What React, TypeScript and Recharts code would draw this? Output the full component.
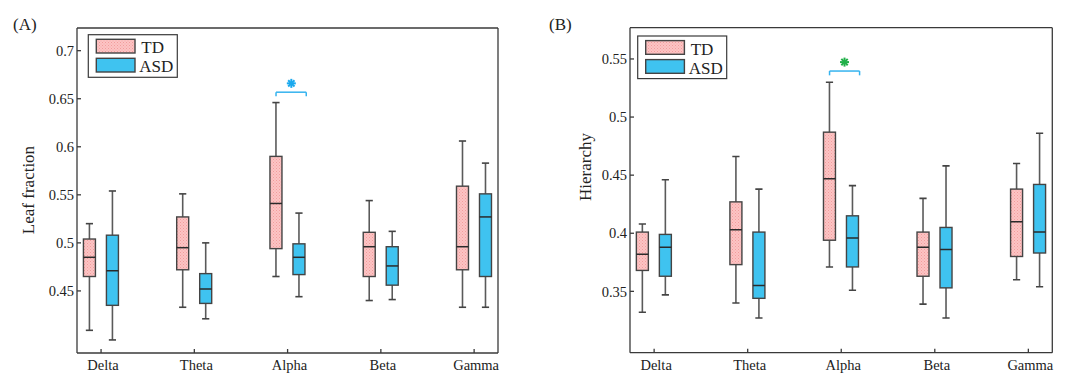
import React from 'react';
import {
  ComposedChart, Bar, XAxis, YAxis, ReferenceLine, ReferenceDot, Customized,
} from 'recharts';

// ---------- data ----------
const bands = ['Delta', 'Theta', 'Alpha', 'Beta', 'Gamma'];

// Leaf fraction (A)
const leafTD = {
  lo: [0.409, 0.433, 0.465, 0.440, 0.433],
  q1: [0.465, 0.472, 0.494, 0.465, 0.472],
  med: [0.485, 0.495, 0.541, 0.496, 0.496],
  q3: [0.504, 0.527, 0.590, 0.511, 0.559],
  hi: [0.520, 0.551, 0.646, 0.544, 0.606],
};
const leafASD = {
  lo: [0.399, 0.421, 0.444, 0.441, 0.433],
  q1: [0.435, 0.437, 0.467, 0.456, 0.465],
  med: [0.471, 0.452, 0.485, 0.476, 0.527],
  q3: [0.508, 0.468, 0.499, 0.496, 0.551],
  hi: [0.554, 0.500, 0.531, 0.512, 0.583],
};
const leafTicks = [0.45, 0.5, 0.55, 0.6, 0.65, 0.7];
const leafDomain = [0.3854, 0.7236];
const leafSig = { x1: 2.876, x2: 3.2, y: 0.6568, drop: 0.6526, starX: 3.04, starY: 0.666 };

// Hierarchy (B)
const hierTD = {
  lo: [0.332, 0.340, 0.371, 0.339, 0.360],
  q1: [0.368, 0.373, 0.394, 0.363, 0.380],
  med: [0.382, 0.403, 0.447, 0.388, 0.410],
  q3: [0.401, 0.427, 0.487, 0.401, 0.438],
  hi: [0.408, 0.466, 0.530, 0.430, 0.460],
};
const hierASD = {
  lo: [0.347, 0.327, 0.351, 0.327, 0.354],
  q1: [0.363, 0.344, 0.371, 0.353, 0.383],
  med: [0.388, 0.355, 0.396, 0.386, 0.401],
  q3: [0.399, 0.401, 0.415, 0.405, 0.442],
  hi: [0.446, 0.438, 0.441, 0.458, 0.486],
};
const hierTicks = [0.35, 0.4, 0.45, 0.5, 0.55];
const hierDomain = [0.2972, 0.5769];
const hierSig = { x1: 2.875, x2: 3.196, y: 0.5396, drop: 0.5359, starX: 3.035, starY: 0.5473 };

const xDomain = [0.742, 5.256];
const xTicks = [1, 2, 3, 4, 5];

// ---------- style ----------
const FONT = '"Liberation Serif", "Times New Roman", serif';
const BLUE = '#3fc3f0';
const EDGE = '#444';
const WHISK = '#5a5a5a';
const AX = '#3a3a3a';

type Stats = { lo: number[]; q1: number[]; med: number[]; q3: number[]; hi: number[] };

function buildRows(td: Stats, asd: Stats) {
  return bands.map((name, i) => ({
    name,
    x: i + 1,
    i,
    tdRange: [td.lo[i], td.hi[i]],
    asdRange: [asd.lo[i], asd.hi[i]],
  }));
}

const makeBox = (st: Stats, fill: string) => (props: any) => {
  const { x, y, width, height, payload } = props;
  const i = payload.i;
  const lo = st.lo[i];
  const hi = st.hi[i];
  const k = height / (hi - lo);
  const Y = (v: number) => y + (hi - v) * k;
  const cx = x + width / 2;
  const cap = width * 0.3;
  return (
    <g>
      <line x1={cx} x2={cx} y1={Y(hi)} y2={Y(st.q3[i])} stroke={WHISK} strokeWidth={1.6} />
      <line x1={cx} x2={cx} y1={Y(st.q1[i])} y2={Y(lo)} stroke={WHISK} strokeWidth={1.6} />
      <line x1={cx - cap} x2={cx + cap} y1={Y(hi)} y2={Y(hi)} stroke={EDGE} strokeWidth={1.6} />
      <line x1={cx - cap} x2={cx + cap} y1={Y(lo)} y2={Y(lo)} stroke={EDGE} strokeWidth={1.6} />
      <rect x={x} y={Y(st.q3[i])} width={width} height={Y(st.q1[i]) - Y(st.q3[i])}
        fill={fill} stroke={EDGE} strokeWidth={1.4} />
      <line x1={x} x2={x + width} y1={Y(st.med[i])} y2={Y(st.med[i])} stroke="#2a2a2a" strokeWidth={1.5} />
    </g>
  );
};

const Star = (color: string) => (props: any) => {
  const { cx, cy } = props;
  const r = 4.5;
  const d = r * 0.707;
  return (
    <g stroke={color} strokeWidth={2}>
      <line x1={cx - r} x2={cx + r} y1={cy} y2={cy} />
      <line x1={cx} x2={cx} y1={cy - r} y2={cy + r} />
      <line x1={cx - d} x2={cx + d} y1={cy - d} y2={cy + d} />
      <line x1={cx - d} x2={cx + d} y1={cy + d} y2={cy - d} />
    </g>
  );
};

const XTick = (props: any) => {
  const { x, y, payload } = props;
  return (
    <text x={x + 2} y={y} dy="0.71em" textAnchor="middle" fontFamily={FONT} fontSize={14.5} fill="#222">
      {bands[payload.value - 1]}
    </text>
  );
};

const YTick = (props: any) => {
  const { x, y, payload } = props;
  return (
    <text x={x} y={y} dy="0.36em" textAnchor="end" fontFamily={FONT} fontSize={14.5} fill="#222">
      {String(payload.value)}
    </text>
  );
};

type PanelProps = {
  width: number;
  margin: { top: number; right: number; bottom: number; left: number };
  td: Stats;
  asd: Stats;
  yDomain: number[];
  yTicks: number[];
  sig: { x1: number; x2: number; y: number; drop: number; starX: number; starY: number };
  starColor: string;
  ylabel: string;
  ylabelPos: [number, number];
  panel: string;
  panelX: number;
  legend: [number, number];
};

function Panel(p: PanelProps) {
  const rows = buildRows(p.td, p.asd);
  const [lx, ly] = p.legend;
  return (
    <ComposedChart width={p.width} height={373} data={rows} margin={p.margin} barSize={12} barGap={11}>
      <XAxis dataKey="x" type="number" domain={xDomain} ticks={xTicks} allowDataOverflow
        height={1} tickSize={-4} tickMargin={11}
        stroke={AX} strokeWidth={1.3} tick={XTick} interval={0} />
      <XAxis xAxisId="top" orientation="top" type="number" domain={xDomain} ticks={xTicks} allowDataOverflow
        height={1} tickSize={-4} tick={false} stroke={AX} strokeWidth={1.3} />
      <YAxis type="number" domain={p.yDomain} ticks={p.yTicks} allowDataOverflow width={1}
        tickSize={-4} tickMargin={7} stroke={AX} strokeWidth={1.3} tick={YTick} interval={0} />
      <YAxis yAxisId="r" orientation="right" type="number" domain={p.yDomain} ticks={p.yTicks} allowDataOverflow
        width={1} tickSize={-4} tick={false} stroke={AX} strokeWidth={1.3} />
      <Bar dataKey="tdRange" isAnimationActive={false} shape={makeBox(p.td, 'url(#hatchPink)')} />
      <Bar dataKey="asdRange" isAnimationActive={false} shape={makeBox(p.asd, BLUE)} />
      <ReferenceLine segment={[{ x: p.sig.x1, y: p.sig.y }, { x: p.sig.x2, y: p.sig.y }]} stroke="#35b3ef" strokeWidth={1.5} />
      <ReferenceLine segment={[{ x: p.sig.x1, y: p.sig.y }, { x: p.sig.x1, y: p.sig.drop }]} stroke="#35b3ef" strokeWidth={1.5} />
      <ReferenceLine segment={[{ x: p.sig.x2, y: p.sig.y }, { x: p.sig.x2, y: p.sig.drop }]} stroke="#35b3ef" strokeWidth={1.5} />
      <ReferenceDot x={p.sig.starX} y={p.sig.starY} shape={Star(p.starColor)} />
      <Customized component={() => (
        <g fontFamily={FONT}>
          <text x={p.ylabelPos[0]} y={p.ylabelPos[1]} fontSize={17} fill="#222" textAnchor="middle"
            dominantBaseline="central" transform={`rotate(-90 ${p.ylabelPos[0]} ${p.ylabelPos[1]})`}>{p.ylabel}</text>
          <text x={p.panelX} y={30} fontSize={17} fill="#222">{p.panel}</text>
          <rect x={lx} y={ly} width={89} height={42.6} fill="#fff" stroke={AX} strokeWidth={1.2} />
          <rect x={lx + 8} y={ly + 4.6} width={38.7} height={13.7} fill="url(#hatchPink)" stroke={EDGE} strokeWidth={1.4} />
          <rect x={lx + 8} y={ly + 23.6} width={38.7} height={13.7} fill={BLUE} stroke={EDGE} strokeWidth={1.4} />
          <text x={lx + 53} y={ly + 18.5} fontSize={17} fill="#222">TD</text>
          <text x={lx + 51} y={ly + 37.6} fontSize={17} fill="#222">ASD</text>
        </g>
      )} />
    </ComposedChart>
  );
}

export default function App() {
  return (
    <div style={{ position: 'absolute', left: 0, top: 0, width: 1078, height: 373, background: '#fff' }}>
      <svg width={0} height={0} style={{ position: 'absolute' }}>
        <defs>
          <pattern id="hatchPink" patternUnits="userSpaceOnUse" width={3} height={3}>
            <rect width={3} height={3} fill="#fcc4c4" />
            <rect width={1} height={1} fill="#f29c9c" />
            <rect x={1.5} y={1.5} width={1} height={1} fill="#f4a4a4" />
          </pattern>
        </defs>
      </svg>
      <div style={{ position: 'absolute', left: 0, top: 0 }}>
        <Panel width={540} margin={{ top: 27, right: 41, bottom: 19, left: 76 }}
          td={leafTD} asd={leafASD} yDomain={leafDomain} yTicks={leafTicks} sig={leafSig}
          starColor="#1aa9ee" ylabel="Leaf fraction" ylabelPos={[28, 190]} panel="(A)" panelX={13}
          legend={[88.3, 34.7]} />
      </div>
      <div style={{ position: 'absolute', left: 540, top: 0 }}>
        <Panel width={538} margin={{ top: 26.7, right: 24.7, bottom: 19.3, left: 89 }}
          td={hierTD} asd={hierASD} yDomain={hierDomain} yTicks={hierTicks} sig={hierSig}
          starColor="#22b04a" ylabel="Hierarchy" ylabelPos={[45, 167]} panel="(B)" panelX={9}
          legend={[97.7, 36]} />
      </div>
    </div>
  );
}
